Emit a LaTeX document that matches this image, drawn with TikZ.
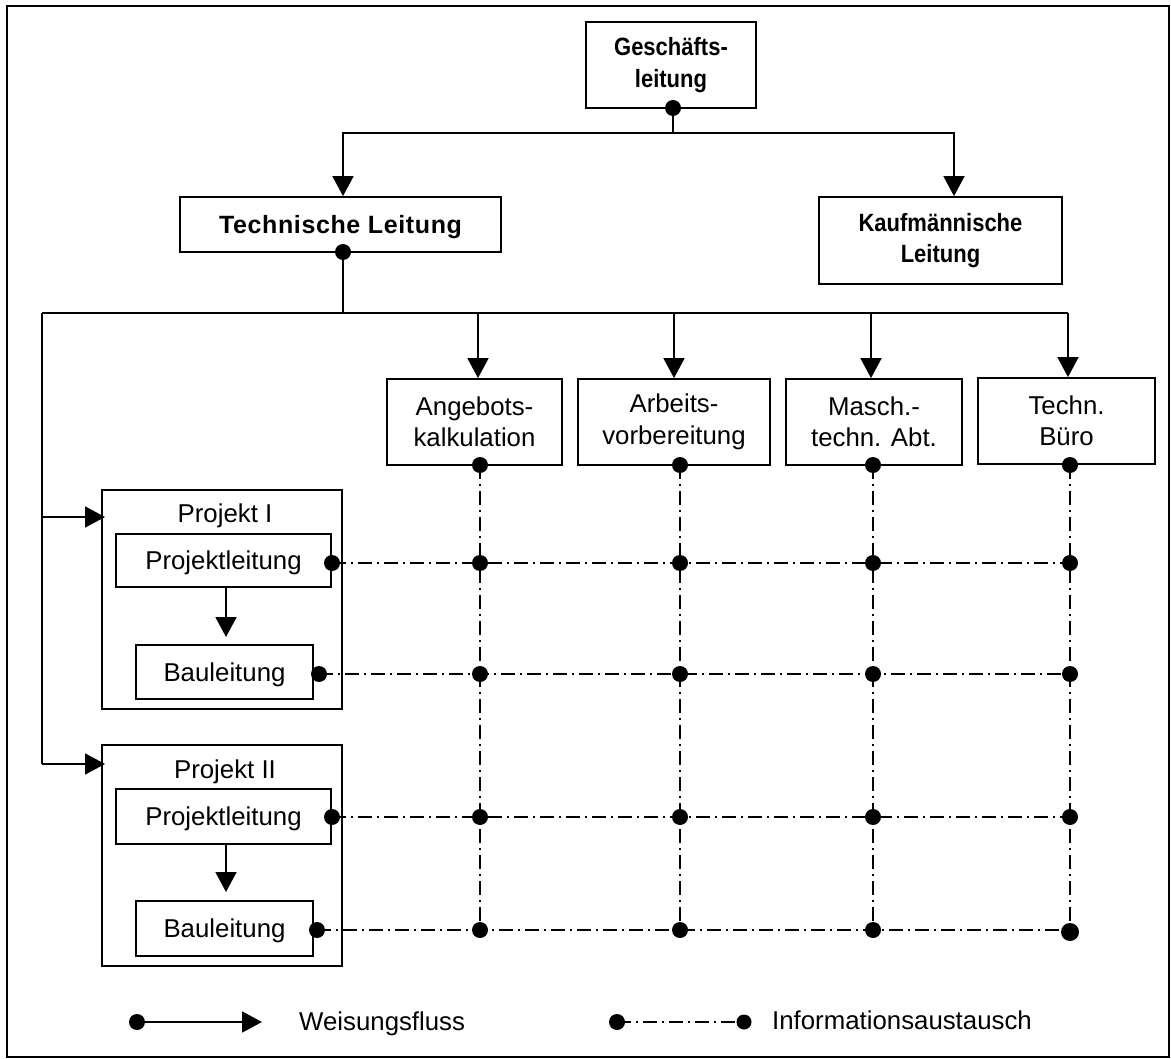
\documentclass[tikz,border=0pt]{standalone}
\usepackage{fontspec}
\usepackage{graphicx}
\setmainfont{Liberation Sans}
\usetikzlibrary{arrows.meta}
\newcommand\orgnorm{\fontsize{25.8}{31.5}\selectfont}
\newcommand\orgbold{\fontsize{25}{31.5}\selectfont\bfseries}
\newcommand\condtwo[2]{\scalebox{0.88}[1]{\begin{tabular}{@{}c@{}}#1\\#2\end{tabular}}}
\begin{document}
\begin{tikzpicture}[x=1pt,y=-1pt,
  every node/.style={font=\orgnorm},
  box/.style={draw,line width=1.8pt,inner sep=0pt,align=center},
  onerow/.style={text depth=0pt},
  flow/.style={line width=1.8pt,-{Triangle[length=20pt,width=21pt]}},
  plain/.style={line width=1.8pt},
  info/.style={line width=1.7pt,dash pattern=on 14pt off 5pt on 2pt off 5pt},
  dot/.style={circle,fill,inner sep=0pt,minimum size=16pt},
  lbl/.style={inner sep=0pt}]
\useasboundingbox (0,0) rectangle (1171,1059);
\draw[line width=2pt] (7,6) rectangle (1169,1057);

% management level
\node[box,minimum width=170pt,minimum height=86pt,font=\orgbold] (gl) at (671,65)
  {\condtwo{Geschäfts-}{leitung}};
\node[box,onerow,minimum width=321pt,minimum height=55pt,font=\orgbold] (tl) at (340.5,224.5)
  {\addfontfeatures{LetterSpace=2.5}Technische Leitung};
\node[box,minimum width=243pt,minimum height=87pt,font=\orgbold] (kl) at (940.5,240.5)
  {\condtwo{Kaufmännische}{Leitung}};

\node[dot] (gldot) at (673,108) {};
\coordinate (glbar) at (673,133);
\coordinate (barL) at (343,133);
\coordinate (barR) at (954,133);
\draw[plain] (gldot.center) -- (glbar);
\draw[flow] (glbar) -- (barL) -- (barL |- tl.north);
\draw[flow] (glbar) -- (barR) -- (barR |- kl.north);

% staff departments
\node[box,minimum width=175pt,minimum height=86pt] (ak) at (474.5,422) {Angebots-\\kalkulation};
\node[box,minimum width=192pt,minimum height=86pt] (av) at (674,422) {Arbeits-\\vorbereitung};
\node[box,minimum width=176pt,minimum height=86pt] (ma) at (874,422) {Masch.-\\techn. Abt.};
\node[box,minimum width=177pt,minimum height=86pt] (tb) at (1066.5,421) {Techn.\\Büro};

\node[dot] (tldot) at (343,252) {};
\coordinate (tlbar) at (343,313);
\coordinate (busL) at (42,313);
\coordinate (busA) at (478,313);
\coordinate (busB) at (674,313);
\coordinate (busC) at (871,313);
\coordinate (busD) at (1068,313);
\draw[plain] (tldot.center) -- (tlbar);
\draw[plain] (busL) -- (busD);
\draw[flow] (busA) -- (busA |- ak.north);
\draw[flow] (busB) -- (busB |- av.north);
\draw[flow] (busC) -- (busC |- ma.north);
\draw[flow] (busD) -- (busD |- tb.north);

% projects
\node[box,minimum width=240pt,minimum height=219pt] (p1) at (222,599.5) {};
\node[lbl,onerow] (p1t) at (225,513) {Projekt I};
\node[box,onerow,minimum width=215pt,minimum height=53pt] (pl1) at (223.5,560.5) {Projektleitung};
\node[box,onerow,minimum width=177pt,minimum height=54pt] (bl1) at (224.5,672) {Bauleitung};

\node[box,minimum width=240pt,minimum height=221pt] (p2) at (222,855.5) {};
\node[lbl,onerow] (p2t) at (225,769) {Projekt II};
\node[box,onerow,minimum width=215pt,minimum height=55pt] (pl2) at (223.5,816.5) {Projektleitung};
\node[box,onerow,minimum width=177pt,minimum height=55pt] (bl2) at (224.5,928.5) {Bauleitung};

\coordinate (busP1) at (42,517);
\coordinate (busP2) at (42,764);
\draw[plain] (busL) -- (busP2);
\draw[flow] (busP1) -- (105,517);
\draw[flow] (busP2) -- (105,764);

\coordinate (pl1a) at (226,587);
\coordinate (pl1b) at (226,637);
\coordinate (pl2a) at (226,844);
\coordinate (pl2b) at (226,892);
\draw[flow] (pl1a) -- (pl1b);
\draw[flow] (pl2a) -- (pl2b);

% information exchange grid
\node[dot] (cA) at (480,465) {};
\node[dot] (cB) at (680,465) {};
\node[dot] (cC) at (873,465) {};
\node[dot] (cD) at (1070,465) {};
\node[dot] (r1) at (332,563) {};
\node[dot] (r2) at (319,674) {};
\node[dot] (r3) at (332,817) {};
\node[dot] (r4) at (317,930) {};

\foreach \c in {A,B,C,D} {
  \foreach \r in {1,2,3} {
    \node[dot] (g\c\r) at (c\c |- r\r) {};
  }
}
\foreach \c in {A,B,C} {
  \node[dot] (g\c4) at (c\c |- r4) {};
}
\node[dot,minimum size=18pt] (gD4) at (1070,932) {};

\foreach \c in {A,B,C,D} {
  \draw[info] (c\c.center) -- (c\c |- r4);
}
\foreach \r in {1,2,3,4} {
  \draw[info] (r\r.center) -- (cD |- r\r);
}

% legend
\node[dot] (lw1) at (137,1022) {};
\coordinate (lw2) at (262,1022);
\draw[flow] (lw1.center) -- (lw2);
\node[lbl,anchor=base west] (lwt) at (299,1030) {Weisungsfluss};

\node[dot] (li1) at (617,1022) {};
\node[dot,minimum size=15pt] (li2) at (744,1022) {};
\draw[info] (li1.center) -- (li2.center);
\node[lbl,anchor=base west] (lit) at (772,1029) {Informationsaustausch};
\end{tikzpicture}
\end{document}
